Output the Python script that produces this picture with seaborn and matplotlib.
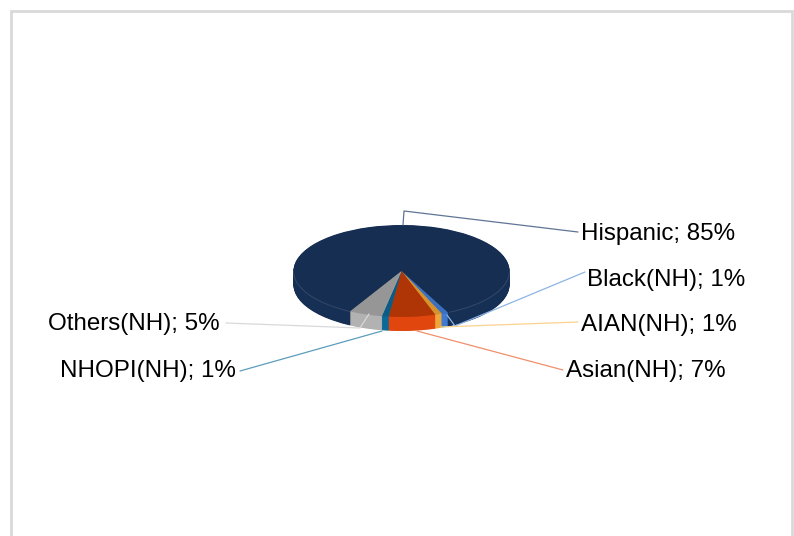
import matplotlib
matplotlib.use('Agg')
import matplotlib.pyplot as plt
from matplotlib.patches import Arc
import seaborn as sns

# data
groups = ['Hispanic', 'Black(NH)', 'AIAN(NH)', 'Asian(NH)', 'NHOPI(NH)', 'Others(NH)']
shares = [85, 1, 1, 7, 1, 5]
top_colors = ['#152e52', '#3a70bd', '#d6922c', '#b03506', '#0a5c86', '#969696']
side_colors = ['#162f55', '#3f7ad0', '#eda63c', '#e0460e', '#0b6a98', '#b2b2b2']
line_colors = ['#5f7595', '#8db4e6', '#fbd28e', '#f0906c', '#5c9dbb', '#d9d9d9']

sns.set_theme(style='white')
plt.rcParams['font.family'] = ['Liberation Sans', 'DejaVu Sans']

W, H = 794, 536
fig = plt.figure(figsize=(W / 100, H / 100), dpi=100, facecolor='white')

# pie axes, stretched so the circle looks like a tilted disc
cx, cy, rx, ry, depth = 401.5, 271, 108, 46, 14
ax = fig.add_axes([(cx - 1.2 * rx) / W, 1 - (cy + 1.8 * ry) / H, 2.4 * rx / W, 3.6 * ry / H])
for i in range(depth * 2, 0, -1):
    ax.pie(shares, colors=side_colors, startangle=241.5, counterclock=False,
           center=(0, -i / 2 / ry), radius=1, wedgeprops={'linewidth': 0})
ax.pie(shares, colors=top_colors, startangle=241.5, counterclock=False,
       wedgeprops={'linewidth': 0})
# faint rim on the top of the wall, front part only
ax.add_patch(Arc((0, 0), 2, 2, theta1=180, theta2=241.5, color='#34496a', lw=0.7))
ax.add_patch(Arc((0, 0), 2, 2, theta1=296, theta2=360, color='#34496a', lw=0.7))
ax.set_xlim(-1.2, 1.2)
ax.set_ylim(-1.8, 1.8)
ax.set_aspect('auto')
ax.axis('off')

# overlay in pixel units for frame, leader lines and labels
ov = fig.add_axes([0, 0, 1, 1], facecolor='none')
ov.set_xlim(0, W)
ov.set_ylim(H, 0)
ov.axis('off')

ov.plot([10.7, 10.7, 791.5, 791.5], [536, 11.3, 11.3, 536], color='#d9d9d9', lw=2, solid_joinstyle='miter')

ov.plot([403, 404, 578], [225, 211, 232], color=line_colors[0], lw=0.9)
ov.plot([585, 455, 447], [272, 326, 315], color=line_colors[1], lw=0.9)
ov.plot([578, 441], [322, 327], color=line_colors[2], lw=0.9)
ov.plot([563, 417], [370, 331], color=line_colors[3], lw=0.9)
ov.plot([240, 382], [371, 331], color=line_colors[4], lw=0.9)
ov.plot([226, 360, 369], [323, 328, 314], color=line_colors[5], lw=0.9)

label_x = [581, 587, 581, 566, 236, 220]
label_y = [231.5, 277.5, 322.5, 368.5, 368.5, 321.5]
label_ha = ['left', 'left', 'left', 'left', 'right', 'right']
for g, s, x, y, ha in zip(groups, shares, label_x, label_y, label_ha):
    ov.text(x, y, f'{g}; {s}%', ha=ha, va='center_baseline', fontsize=17.4, color='black')

fig.savefig('out.png', dpi=100)
